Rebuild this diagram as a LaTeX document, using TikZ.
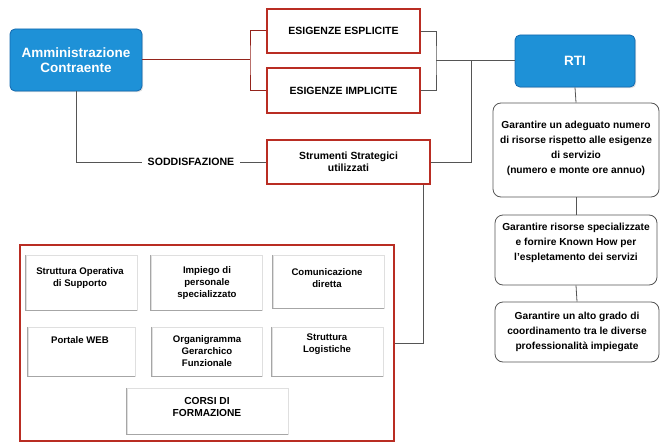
\documentclass[tikz,border=0pt]{standalone}
\usepackage{fontspec}
\setmainfont{Liberation Sans}
\usetikzlibrary{shadows}
\definecolor{myblue}{RGB}{30,145,215}
\definecolor{mybluedark}{RGB}{20,105,175}
\definecolor{myred}{RGB}{185,45,35}
\definecolor{linegray}{RGB}{85,85,85}
\tikzset{
  bluebox/.style={draw=mybluedark, fill=myblue, rounded corners=5pt, text=white,
    font=\fontsize{13.5}{15}\selectfont\bfseries, align=center, line width=0.8pt,
    drop shadow={opacity=0.25, shadow xshift=1.2pt, shadow yshift=-1.2pt}},
  redbox/.style={draw=myred, fill=white, line width=1.2pt, align=center,
    font=\fontsize{10.5}{11}\selectfont\bfseries},
  goalbox/.style={draw=linegray, rounded corners=8pt, line width=0.8pt, fill=white},
  goaltext/.style={align=center, font=\fontsize{10.2}{15}\selectfont\bfseries},
  innerbox/.style={draw=gray!25, line width=0.5pt},
  innertext/.style={align=center, font=\fontsize{9.6}{12}\selectfont\bfseries},
  conn/.style={draw=linegray, line width=0.8pt},
  redconn/.style={draw=myred!80!black, line width=1pt},
  inneredge/.style={draw=gray!70, line width=0.8pt}
}
\begin{document}
\begin{tikzpicture}[x=1pt,y=-1pt]
\useasboundingbox (0,0) rectangle (669,444);

% top blue boxes
\node[bluebox, minimum width=132pt, minimum height=62pt] (amm) at (76,60) {Amministrazione\\Contraente};
\node[bluebox, minimum width=120pt, minimum height=52pt] (rti) at (575,61) {RTI};

% red boxes
\node[redbox, minimum width=153pt, minimum height=44pt] (esp) at (343.5,31) {ESIGENZE ESPLICITE};
\node[redbox, minimum width=153pt, minimum height=45pt] (imp) at (343.5,90.5) {ESIGENZE IMPLICITE};
\node[redbox, minimum width=163pt, minimum height=44pt, font=\fontsize{10.4}{11.5}\selectfont\bfseries] (strum) at (348.5,162) {Strumenti Strategici\\utilizzati};

\node[font=\fontsize{10.6}{11}\selectfont\bfseries, inner xsep=6pt] (sodd) at (191,162) {SODDISFAZIONE};

% goal boxes
\node[goalbox, minimum width=166pt, minimum height=94pt] (g1) at (576,150) {};
\node[goaltext] (g1t) at (576,148) {Garantire un adeguato numero\\di risorse rispetto alle esigenze\\di servizio\\(numero e monte ore annuo)};
\node[goalbox, minimum width=162pt, minimum height=70pt] (g2) at (576,250) {};
\node[goaltext] (g2t) at (576,243) {Garantire risorse specializzate\\e fornire Known How per\\l'espletamento dei servizi};
\node[goalbox, minimum width=164pt, minimum height=60pt] (g3) at (577,332) {};
\node[goaltext] (g3t) at (577,332) {Garantire un alto grado di\\coordinamento tra le diverse\\professionalità impiegate};

% big red box
\node[draw=myred, line width=1.2pt, minimum width=374pt, minimum height=196pt] (big) at (207,343) {};

% inner boxes
\node[innerbox, minimum width=111pt, minimum height=55pt] (b1) at (81.5,282.5) {};
\node[innertext] (b1t) at (80,278) {Struttura Operativa\\di Supporto};
\node[innerbox, minimum width=111pt, minimum height=55pt] (b2) at (206.5,282.5) {};
\node[innertext] (b2t) at (207,283) {Impiego di\\personale\\specializzato};
\node[innerbox, minimum width=111pt, minimum height=53pt] (b3) at (328.5,281.5) {};
\node[innertext] (b3t) at (327,278) {Comunicazione\\diretta};
\node[innerbox, minimum width=107pt, minimum height=49pt] (b4) at (81.5,351.5) {};
\node[innertext] (b4t) at (80,340) {Portale WEB};
\node[innerbox, minimum width=110pt, minimum height=49pt] (b5) at (207,351.5) {};
\node[innertext] (b5t) at (207,351) {Organigramma\\Gerarchico\\Funzionale};
\node[innerbox, minimum width=111pt, minimum height=49pt] (b6) at (327.5,351.5) {};
\node[innertext] (b6t) at (327,344) {Struttura\\Logistiche};
\node[innerbox, minimum width=161pt, minimum height=46pt] (b7) at (207.5,411) {};
\node[innertext, font=\fontsize{10.2}{12.5}\selectfont\bfseries] (b7t) at (207,407) {CORSI DI\\FORMAZIONE};

\foreach \b in {b1,b2,b3,b4,b5,b6,b7}{
  \draw[inneredge] (\b.north west) -- (\b.south west) -- (\b.south east);
}

% coordinates
\coordinate (lbr) at (250,60);
\coordinate (rbr) at (436,60);
\coordinate (vj) at (471,60);

% connectors
\draw[redconn] (amm.east) -- (lbr);
\draw[redconn] (esp.west) -| (lbr) |- (imp.west);
\draw[conn] (esp.east) -| (rbr) |- (imp.east);
\draw[conn] (rbr) -- (rbr -| rti.west);
\draw[conn] (strum.east) -| (vj);
\draw[conn] (amm.south) |- (sodd.west);
\draw[conn] (sodd.east) -- (strum.west);
\draw[conn] ([xshift=-7pt]strum.south east) |- (big.east);
\draw[conn] (rti.south) -- (g1.north);
\draw[conn] (g1.south) -- (g2.north);
\draw[conn] (g2.south) -- (g3.north);
\end{tikzpicture}
\end{document}
